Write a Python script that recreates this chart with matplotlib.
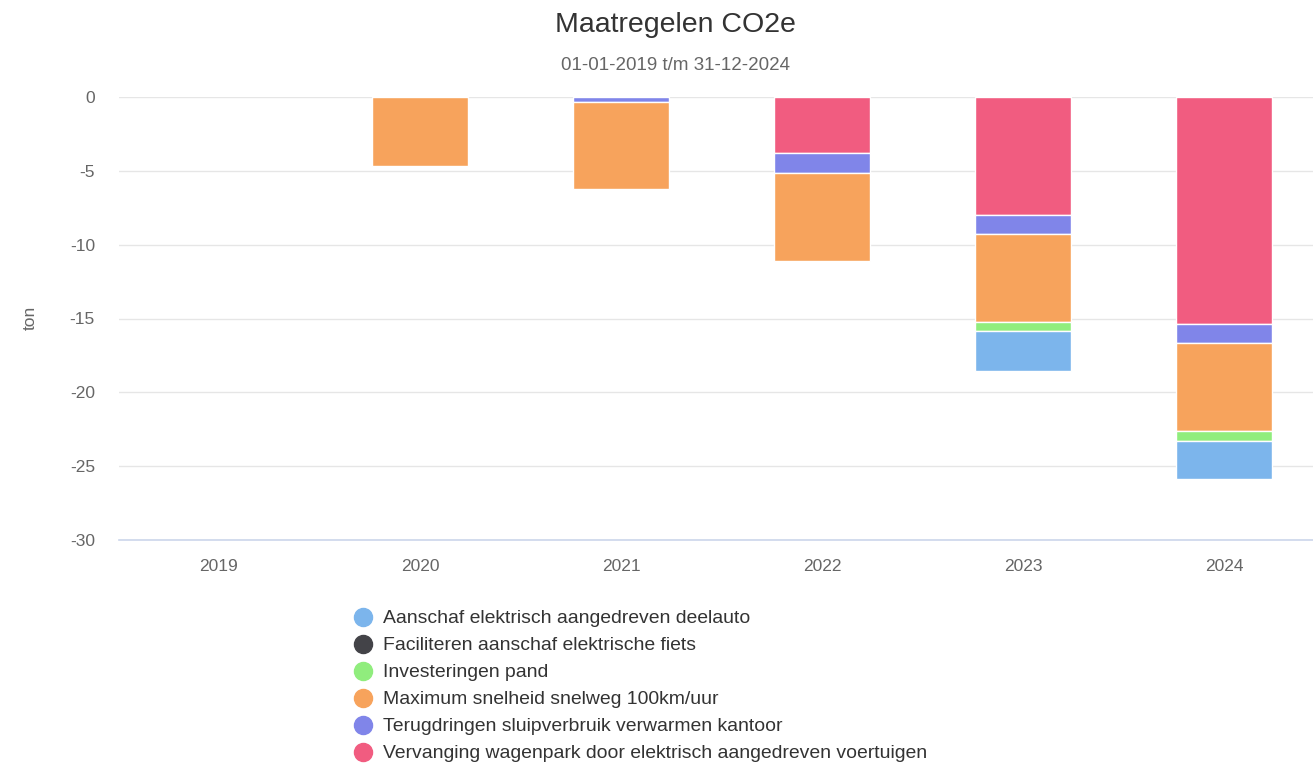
import matplotlib
matplotlib.use("Agg")
import matplotlib.pyplot as plt
from matplotlib.lines import Line2D
import numpy as np

plt.rcParams['font.family'] = ['Liberation Sans', 'DejaVu Sans']

years = ['2019', '2020', '2021', '2022', '2023', '2024']
series_names = [
    'Aanschaf elektrisch aangedreven deelauto',
    'Faciliteren aanschaf elektrische fiets',
    'Investeringen pand',
    'Maximum snelheid snelweg 100km/uur',
    'Terugdringen sluipverbruik verwarmen kantoor',
    'Vervanging wagenpark door elektrisch aangedreven voertuigen',
]
deelauto = [0, 0, 0, 0, -2.72, -2.59]
fiets = [0, 0, 0, 0, 0, 0]
pand = [0, 0, 0, 0, -0.65, -0.66]
snelheid = [0, -4.67, -5.84, -5.96, -5.93, -5.93]
sluip = [0, 0, -0.36, -1.31, -1.31, -1.33]
wagenpark = [0, 0, 0, -3.81, -7.97, -15.35]
colors = ['#7cb5ec', '#434348', '#90ed7d', '#f7a35c', '#8085e9', '#f15c80']

W, H = 1313, 763
fig = plt.figure(figsize=(W / 100, H / 100), dpi=100)
ax = fig.add_axes([118.5 / W, (H - 540) / H, 1206 / W, 443 / H])

x = np.arange(len(years))
data = [deelauto, fiets, pand, snelheid, sluip, wagenpark]
# stack from zero downward: last series (wagenpark) nearest zero
bottom = np.zeros(len(years))
for vals, col in zip(reversed(data), reversed(colors)):
    v = np.array(vals, dtype=float)
    nz = v != 0
    if nz.any():
        ax.bar(x[nz], v[nz], width=0.48, bottom=bottom[nz], color=col,
               edgecolor='white', linewidth=1, zorder=3)
    bottom = bottom + v

ax.set_xlim(-0.5, 5.5)
ax.set_ylim(-30, 0)
ax.set_yticks([0, -5, -10, -15, -20, -25, -30])
ax.set_yticklabels(['0', '-5', '-10', '-15', '-20', '-25', '-30'])
ax.set_xticks(x)
ax.set_xticklabels(years)
ax.tick_params(axis='both', length=0, labelsize=12.5, colors='#666666')
ax.tick_params(axis='y', pad=17)
ax.tick_params(axis='x', pad=14)
ax.grid(axis='y', color='#e6e6e6', linewidth=1, zorder=0)
ax.set_axisbelow(True)
for s in ['top', 'right', 'left']:
    ax.spines[s].set_visible(False)
ax.spines['bottom'].set_color('#ccd6eb')
ax.spines['bottom'].set_linewidth(1.2)
ax.spines['bottom'].set_zorder(4)

fig.text(30 / W, 1 - 318 / H, 'ton', rotation=90, ha='center', va='center', fontsize=12.5, color='#666666')
fig.text(675 / W, 1 - 25 / H, 'Maatregelen CO2e', ha='center', va='center', fontsize=20.5, color='#333333')
fig.text(675 / W, 1 - 66 / H, '01-01-2019 t/m 31-12-2024', ha='center', va='center', fontsize=13.5, color='#666666')

# legend
for i, (name, col) in enumerate(zip(series_names, colors)):
    yc = 1 - (617 + 27 * i) / H
    fig.add_artist(Line2D([363 / W], [yc], marker='o', markersize=13, color=col,
                          linestyle='none', transform=fig.transFigure))
    fig.text(383 / W, yc - 1.5 / H, name, ha='left', va='center', fontsize=13.95, color='#333333')

fig.savefig('out.png', dpi=100)
